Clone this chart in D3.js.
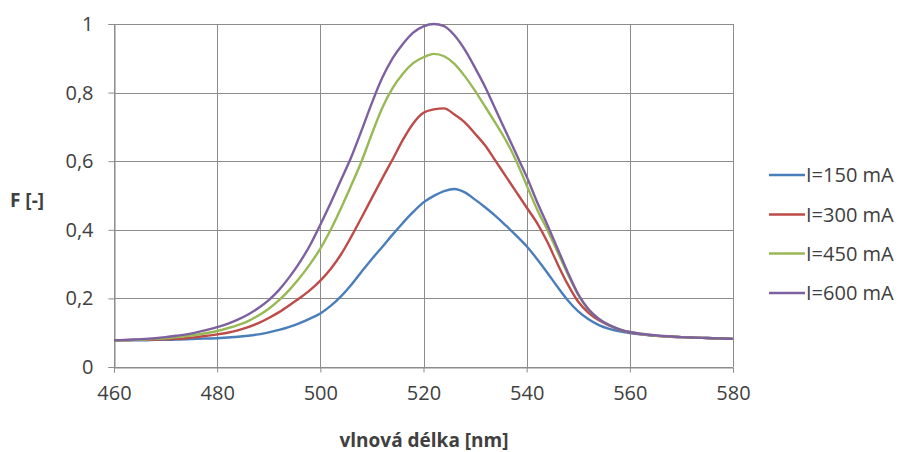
<!DOCTYPE html>
<html>
<head>
<meta charset="utf-8">
<script src="https://cdn.jsdelivr.net/npm/d3@7"></script>
<style>
  html, body { margin: 0; padding: 0; background: #fff; }
  svg { display: block; }
  text { font-family: "Open Sans", Lato, "Noto Sans", sans-serif; fill: #404040; }
</style>
</head>
<body>
<svg id="chart" width="902" height="452"></svg>
<script>
// wavelength samples [nm]
const wavelengths = d3.range(460, 581, 2);

const seriesNames = ["I=150 mA", "I=300 mA", "I=450 mA", "I=600 mA"];
const seriesColors = ["#4A7EBB", "#BE4B48", "#98B954", "#7D60A0"];

const i150 = [
  .078,.078,.078,.078,.079,.079,.080,.081,.082,.083,
  .084,.086,.088,.091,.095,.101,.108,.117,.128,.141,
  .156,.178,.206,.240,.278,.315,.350,.386,.420,.452,
  .480,.499,.513,.519,.509,.488,.465,.440,.412,.383,
  .352,.315,.275,.233,.194,.162,.139,.122,.111,.104,
  .099,.095,.092,.090,.088,.087,.086,.085,.084,.083,.082
];
const i300 = [
  .078,.078,.079,.079,.080,.081,.082,.084,.087,.091,
  .095,.100,.107,.116,.128,.143,.160,.180,.201,.224,
  .252,.286,.328,.380,.436,.493,.550,.605,.662,.710,
  .741,.751,.754,.736,.713,.680,.645,.600,.555,.510,
  .465,.420,.365,.300,.240,.190,.158,.136,.121,.109,
  .101,.096,.093,.090,.088,.087,.086,.085,.084,.083,.082
];
const i450 = [
  .078,.078,.079,.080,.082,.084,.087,.090,.094,.099,
  .105,.113,.122,.134,.150,.170,.195,.225,.260,.300,
  .345,.400,.463,.530,.600,.680,.755,.813,.855,.886,
  .903,.913,.906,.884,.848,.805,.758,.710,.660,.600,
  .530,.460,.400,.335,.270,.210,.167,.140,.122,.110,
  .102,.097,.093,.090,.088,.087,.086,.085,.084,.083,.082
];
const i600 = [
  .078,.079,.080,.082,.084,.087,.091,.095,.101,.108,
  .116,.126,.138,.153,.172,.195,.225,.262,.305,.355,
  .415,.478,.545,.612,.690,.770,.843,.900,.942,.975,
  .993,1.0,.994,.967,.925,.872,.815,.750,.685,.620,
  .555,.482,.415,.345,.275,.212,.168,.140,.122,.110,
  .102,.097,.094,.091,.089,.087,.086,.085,.084,.083,.082
];
const seriesValues = [i150, i300, i450, i600];

const xTicks = [460, 480, 500, 520, 540, 560, 580];
const yTicks = [0, 0.2, 0.4, 0.6, 0.8, 1];
const xTitle = "vlnová délka [nm]";
const yTitle = "F [-]";

// ---- layout ----
const svg = d3.select("#chart");
const L = 114, R = 733, T = 24, B = 367;

const x = d3.scaleLinear().domain([460, 580]).range([L, R]);
const y = d3.scaleLinear().domain([0, 1]).range([B, T]);
const fmt = d => d === 0 || d === 1 ? String(d) : String(d).replace(".", ",");

// gridlines
const grid = svg.append("g").attr("stroke", "#8c8c8c").attr("stroke-width", 1);
xTicks.forEach(t => grid.append("line")
  .attr("x1", Math.round(x(t)) + 0.5).attr("x2", Math.round(x(t)) + 0.5)
  .attr("y1", T).attr("y2", B));
yTicks.forEach(t => grid.append("line")
  .attr("x1", L).attr("x2", R)
  .attr("y1", Math.round(y(t)) + 0.5).attr("y2", Math.round(y(t)) + 0.5));

// axes
const xAxis = svg.append("g").attr("transform", `translate(0,${Math.round(B) + 0.5})`)
  .call(d3.axisBottom(x).tickValues(xTicks).tickSize(5).tickPadding(13).tickFormat(d => d));
const yAxis = svg.append("g").attr("transform", `translate(${Math.round(L) + 0.5},0)`)
  .call(d3.axisLeft(y).tickValues(yTicks).tickSize(6).tickPadding(15).tickFormat(fmt));
[xAxis, yAxis].forEach(a => {
  a.select(".domain").attr("stroke", "#8c8c8c");
  a.selectAll(".tick line").attr("stroke", "#8c8c8c");
  a.selectAll(".tick text").attr("font-size", 20).attr("fill", "#404040")
    .style("font-family", '"Open Sans", Lato, sans-serif');
});

// lines
const line = d3.line().x((d, i) => x(wavelengths[i])).y(d => y(d)).curve(d3.curveMonotoneX);
seriesValues.forEach((vals, k) => {
  svg.append("path").datum(vals)
    .attr("fill", "none")
    .attr("stroke", seriesColors[k])
    .attr("stroke-width", 2.4)
    .attr("stroke-linejoin", "round")
    .attr("d", line);
});

// titles
svg.append("text").attr("x", 424).attr("y", 447).attr("text-anchor", "middle")
  .attr("font-size", 19).attr("font-weight", "bold").attr("fill", "#262626").text(xTitle);
svg.append("text").attr("x", 10).attr("y", 207)
  .attr("font-size", 19).attr("font-weight", "bold").attr("fill", "#262626").text(yTitle);

// legend
const legendY = [175, 214.5, 253.5, 293];
const lg = svg.append("g");
seriesNames.forEach((n, k) => {
  lg.append("line").attr("x1", 769).attr("x2", 805)
    .attr("y1", legendY[k]).attr("y2", legendY[k])
    .attr("stroke", seriesColors[k]).attr("stroke-width", 2.4);
  lg.append("text").attr("x", 806).attr("y", legendY[k]).attr("dy", "0.35em")
    .attr("font-size", 20).attr("fill", "#404040").text(n);
});
</script>
</body>
</html>
